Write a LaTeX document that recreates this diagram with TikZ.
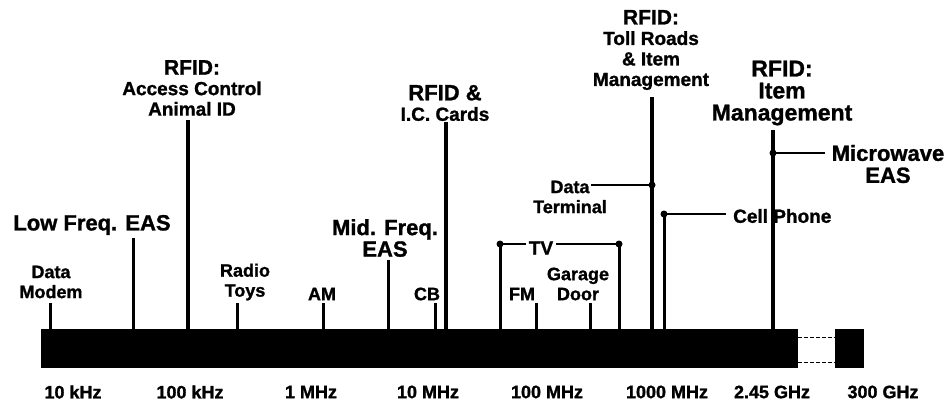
\documentclass[tikz,border=0pt]{standalone}
\usepackage{fontspec}
\setmainfont{Liberation Sans}[BoldFeatures={FakeBold=1.2}]
\begin{document}
\begin{tikzpicture}[x=1pt,y=-1pt,
  lbl/.style={font=\bfseries\fontsize{18}{20}\selectfont, align=center, inner sep=0pt},
  midlbl/.style={lbl, font=\bfseries\fontsize{19}{20.5}\selectfont},
  biglbl/.style={lbl, font=\bfseries\fontsize{22}{21.5}\selectfont},
  tick/.style={line width=3pt},
  rfidline/.style={line width=3.6pt},
  thinline/.style={line width=1.3pt},
  dashline/.style={line width=1pt, dash pattern=on 4pt off 2pt},
  dot/.style={circle, fill=black, inner sep=0pt, minimum size=7pt},
  blackbox/.style={fill=black, inner sep=0pt, anchor=north west}]
\useasboundingbox (0,0) rectangle (952,404);

% spectrum bar and far block
\node[blackbox, minimum width=757pt, minimum height=39pt] (bar) at (41,329) {};
\node[blackbox, minimum width=29pt, minimum height=39pt] (blk) at (835,329) {};
\draw[dashline] ([yshift=-8pt]bar.north east) -- ([yshift=-8pt]blk.north west);
\draw[dashline] ([yshift=6pt]bar.south east) -- ([yshift=6pt]blk.south west);

% axis labels
\node[lbl] (f1) at (73,392) {10 kHz};
\node[lbl] (f2) at (190,392) {100 kHz};
\node[lbl] (f3) at (311,392) {1 MHz};
\node[lbl] (f4) at (428,392) {10 MHz};
\node[lbl] (f5) at (547,392) {100 MHz};
\node[lbl] (f6) at (667,392) {1000 MHz};
\node[lbl] (f7) at (772,392) {2.45 GHz};
\node[lbl] (f8) at (883,392) {300 GHz};

% Data Modem
\node[lbl] (dm) at (51,282) {Data\\Modem};
\coordinate (tdm) at (50,303);
\draw[tick] (tdm) -- (tdm |- bar.north);

% Low Freq EAS
\node[biglbl] (lf) at (92,225) {Low Freq. EAS};
\coordinate (tlf) at (133,238);
\draw[tick] (tlf) -- (tlf |- bar.north);

% RFID access control
\node[midlbl] (rac) at (192,88) {{\fontsize{21}{21}\selectfont RFID:}\\Access Control\\Animal ID};
\coordinate (trac) at (188,120);
\draw[rfidline] (trac) -- (trac |- bar.north);

% Radio toys
\node[lbl] (rt) at (245,282) {Radio\\Toys};
\coordinate (trt) at (237,303);
\draw[tick] (trt) -- (trt |- bar.north);

% AM
\node[lbl] (am) at (322,294) {AM};
\coordinate (tam) at (323,303);
\draw[tick] (tam) -- (tam |- bar.north);

% Mid Freq EAS
\node[biglbl] (mf) at (385,238) {Mid. Freq.\\EAS};
\coordinate (tmf) at (388,260);
\draw[tick] (tmf) -- (tmf |- bar.north);

% CB
\node[lbl] (cb) at (427,294) {CB};
\coordinate (tcb) at (435,303);
\draw[tick] (tcb) -- (tcb |- bar.north);

% RFID & IC cards
\node[midlbl] (ric) at (445,103) {{\fontsize{22}{22}\selectfont RFID \&}\\I.C. Cards};
\coordinate (tric) at (446,122);
\draw[rfidline] (tric) -- (tric |- bar.north);

% TV
\node[lbl, font=\bfseries\fontsize{19}{20}\selectfont] (tv) at (541,248) {TV};
\node[dot] (tvl) at (500,244) {};
\node[dot] (tvr) at (619,244) {};
\draw[tick] (tvl.center) -- (tvl.center |- bar.north);
\draw[tick] (tvr.center) -- (tvr.center |- bar.north);
\draw[thinline, shorten >=3pt] (tvl.center) -- (tv.west |- tvl.center);
\draw[thinline, shorten <=3pt] (tv.east |- tvr.center) -- (tvr.center);

% FM
\node[lbl] (fm) at (522,294) {FM};
\coordinate (tfm) at (536,303);
\draw[tick] (tfm) -- (tfm |- bar.north);

% Garage door
\node[lbl] (gd) at (578,284) {Garage\\Door};
\coordinate (tgd) at (590,303);
\draw[tick] (tgd) -- (tgd |- bar.north);

% Data terminal
\node[lbl] (dt) at (570,197) {Data\\Terminal};
\coordinate (dtend) at (591,185);

% RFID toll roads
\node[midlbl] (rtr) at (651,50) {{\fontsize{21}{21}\selectfont RFID:}\\Toll Roads\\\& Item\\Management};
\coordinate (trtr) at (652,97);
\draw[rfidline] (trtr) -- (trtr |- bar.north);
\node[dot] (dtdot) at (652,185) {};
\draw[thinline] (dtend) -- (dtdot.center);

% Cell phone
\node[midlbl, anchor=west] (cp) at (733,216) {Cell Phone};
\node[dot] (cpdot) at (664,214) {};
\draw[tick] (cpdot.center) -- (cpdot.center |- bar.north);
\draw[thinline, shorten >=7pt] (cpdot.center) -- (cp.west |- cpdot.center);

% RFID item management
\node[lbl, font=\bfseries\fontsize{23}{22}\selectfont] (rim) at (782,93) {RFID:\\Item\\Management};
\coordinate (trim) at (773,130);
\draw[rfidline] (trim) -- (trim |- bar.north);

% Microwave EAS
\node[lbl, font=\bfseries\fontsize{22}{22}\selectfont] (mw) at (888,164) {Microwave\\EAS};
\node[dot] (mwdot) at (773,153) {};
\coordinate (mwend) at (825,153);
\draw[thinline] (mwdot.center) -- (mwend);
\end{tikzpicture}
\end{document}
